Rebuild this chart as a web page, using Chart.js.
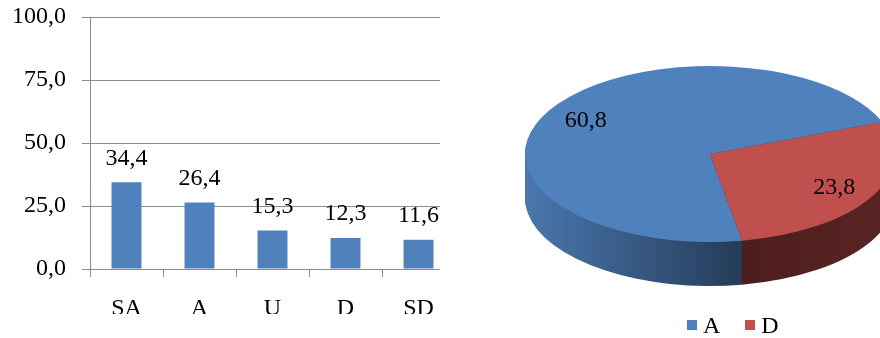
<!DOCTYPE html>
<html>
<head>
<meta charset="utf-8">
<script src="https://cdn.jsdelivr.net/npm/chart.js@4.4.0/dist/chart.umd.min.js"></script>
<style>
html, body { margin: 0; padding: 0; background: #fff; }
body { width: 880px; height: 338px; overflow: hidden; position: relative; font-family: 'Liberation Serif', serif; }
#barBox { position: absolute; left: 0; top: 0; width: 440px; height: 314px; overflow: hidden; }
#pieChart { position: absolute; left: 525px; top: -31px; }
#legend { position: absolute; top: 313px; left: 687px; font-size: 24px; line-height: 24px; display: flex; align-items: center; color: #000; }
#legend span.sq { display: inline-block; width: 10px; height: 10px; margin-right: 6px; }
#legend span.item { display: flex; align-items: center; margin-right: 25px; }
</style>
</head>
<body>
<div id="barBox"><canvas id="barChart" width="455" height="338"></canvas></div>
<canvas id="pieChart" width="370" height="370"></canvas>
<div id="legend"></div>
<script>
const categorias = ['SA', 'A', 'U', 'D', 'SD'];
const valores = [34.4, 26.4, 15.3, 12.3, 11.6];
const ticksY = [0, 25, 50, 75, 100];
const pieEtiquetas = ['A', 'D'];
const pieValores = [60.8, 23.8];

const azul = '#4f81bd';
const rojo = '#c0504d';
const gris = '#8c8c8c';
const fuente = { family: "'Liberation Serif', serif", size: 24 };

function fmt(v) {
    return v.toFixed(1).replace('.', ',');
}

// etiquetas encima de cada barra
const etiquetasBarras = {
    id: 'etiquetasBarras',
    afterDatasetsDraw(chart) {
        const ctx = chart.ctx;
        const meta = chart.getDatasetMeta(0);
        ctx.save();
        ctx.font = "24px 'Liberation Serif', serif";
        ctx.fillStyle = '#000';
        ctx.textAlign = 'center';
        ctx.textBaseline = 'middle';
        meta.data.forEach((bar, i) => {
            ctx.fillText(fmt(valores[i]), bar.x, bar.y - 24);
        });
        ctx.restore();
    }
};

new Chart(document.getElementById('barChart'), {
    type: 'bar',
    data: {
        labels: categorias,
        datasets: [{
            data: valores,
            backgroundColor: azul,
            barPercentage: 0.41,
            categoryPercentage: 1
        }]
    },
    options: {
        responsive: false,
        animation: false,
        layout: { padding: { top: 17, right: 0, bottom: 0, left: 0 } },
        plugins: { legend: { display: false }, tooltip: { enabled: false } },
        scales: {
            x: {
                grid: { offset: true, drawOnChartArea: false, tickLength: 8, color: gris },
                border: { color: gris },
                ticks: { padding: 17, color: '#000', font: fuente },
                afterFit: s => { s.height = 69; s.paddingLeft = 0; s.paddingRight = 0; }
            },
            y: {
                min: 0,
                max: 100,
                afterBuildTicks: s => { s.ticks = ticksY.map(v => ({ value: v })); },
                grid: { color: gris, tickLength: 8 },
                border: { color: gris },
                ticks: { padding: 16, color: '#000', font: fuente, callback: v => fmt(v) },
                afterFit: s => { s.width = 90; s.paddingTop = 0; s.paddingBottom = 0; }
            }
        }
    },
    plugins: [etiquetasBarras]
});

// pastel en 3D: se aplana y se extruye hacia abajo
const ESCALA = 88 / 185;
const PROFUNDIDAD = 44;

const pie3d = {
    id: 'pie3d',
    beforeDatasetsDraw(chart) {
        const ctx = chart.ctx;
        const arcs = chart.getDatasetMeta(0).data;
        const cx = arcs[0].x, cy = arcs[0].y;

        const gAzul = ctx.createLinearGradient(0, 0, 222, 0);
        gAzul.addColorStop(0, '#4a77ae');
        gAzul.addColorStop(1, '#243a57');
        const gRojo = ctx.createLinearGradient(220, 0, 370, 0);
        gRojo.addColorStop(0, '#4e1d1d');
        gRojo.addColorStop(1, '#5a2424');
        const lados = [gAzul, gRojo];

        for (let d = PROFUNDIDAD; d > 0; d--) {
            ctx.save();
            ctx.translate(cx, cy + d);
            ctx.scale(1, ESCALA);
            ctx.translate(-cx, -cy);
            arcs.forEach((arc, i) => {
                const orig = arc.options;
                arc.options = Object.assign({}, orig, { backgroundColor: lados[i] });
                arc.draw(ctx);
                arc.options = orig;
            });
            ctx.restore();
        }
        ctx.save();
        ctx.translate(cx, cy);
        ctx.scale(1, ESCALA);
        ctx.translate(-cx, -cy);
    },
    afterDatasetsDraw(chart) {
        const ctx = chart.ctx;
        ctx.restore();
        const arcs = chart.getDatasetMeta(0).data;
        ctx.save();
        ctx.font = "24px 'Liberation Serif', serif";
        ctx.fillStyle = '#000';
        ctx.textAlign = 'center';
        ctx.textBaseline = 'middle';
        arcs.forEach((arc, i) => {
            const mid = (arc.startAngle + arc.endAngle) / 2;
            const r = arc.outerRadius * 0.77;
            ctx.fillText(fmt(pieValores[i]), arc.x + Math.cos(mid) * r, arc.y + Math.sin(mid) * r * ESCALA);
        });
        ctx.restore();
    }
};

new Chart(document.getElementById('pieChart'), {
    type: 'pie',
    data: {
        labels: pieEtiquetas,
        datasets: [{
            data: pieValores,
            backgroundColor: [azul, rojo],
            borderWidth: 0,
            hoverOffset: 0,
            clip: false
        }]
    },
    options: {
        responsive: false,
        animation: false,
        rotation: 170,
        layout: { padding: 0 },
        plugins: { legend: { display: false }, tooltip: { enabled: false } }
    },
    plugins: [pie3d]
});

// leyenda
const leyenda = document.getElementById('legend');
pieEtiquetas.forEach((et, i) => {
    const item = document.createElement('span');
    item.className = 'item';
    item.innerHTML = '<span class="sq" style="background:' + [azul, rojo][i] + '"></span>' + et;
    leyenda.appendChild(item);
});
</script>
</body>
</html>
